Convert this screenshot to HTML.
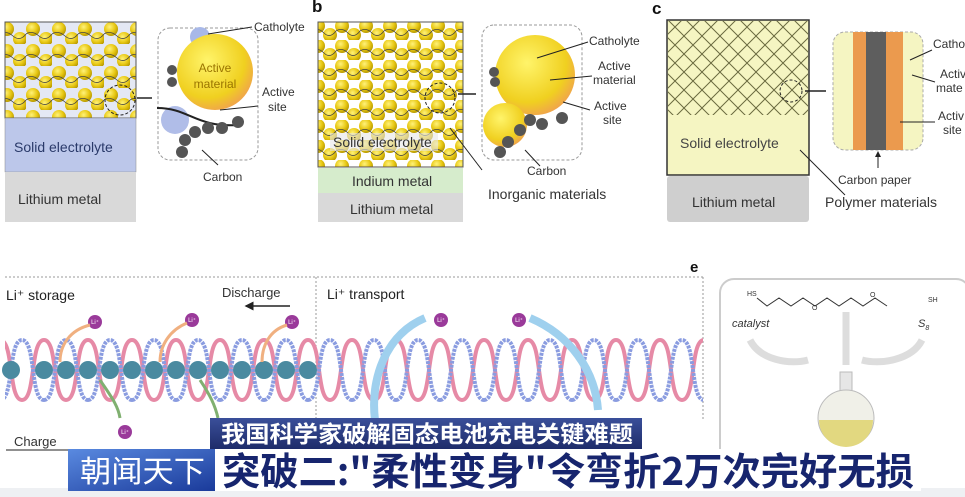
<!DOCTYPE html>
<html><head><meta charset="utf-8"><style>
html,body{margin:0;padding:0;background:#fff;}
body{width:965px;height:497px;overflow:hidden;position:relative;font-family:"Liberation Sans","Noto Sans CJK SC",sans-serif;}
svg{position:absolute;left:0;top:0;}
.t{font-family:"Liberation Sans",sans-serif;fill:#333;}
</style></head><body>
<svg width="965" height="497" viewBox="0 0 965 497">
<defs>
<radialGradient id="ball" cx="0.4" cy="0.35" r="0.65"><stop offset="0" stop-color="#fff27a"/><stop offset="0.6" stop-color="#e8c814"/><stop offset="1" stop-color="#b89a00"/></radialGradient>
<radialGradient id="big" cx="0.4" cy="0.35" r="0.7"><stop offset="0" stop-color="#fff46a"/><stop offset="0.7" stop-color="#f0d020"/><stop offset="1" stop-color="#f0a050"/></radialGradient>
<pattern id="balls" width="24" height="20" patternUnits="userSpaceOnUse">
<circle cx="6" cy="6" r="7" fill="url(#ball)"/><circle cx="18" cy="15" r="7" fill="url(#ball)"/><circle cx="-6" cy="15" r="7" fill="url(#ball)"/><circle cx="30" cy="6" r="7" fill="url(#ball)"/>
<path d="M0,11 q6,-4 12,2 t12,-2" stroke="#444" stroke-width="0.8" fill="none"/>
</pattern>
<pattern id="ballsa" width="26" height="22" patternUnits="userSpaceOnUse">
<rect width="26" height="22" fill="#e4e8f4"/>
<circle cx="7" cy="7" r="7" fill="url(#ball)"/><circle cx="20" cy="17" r="7" fill="url(#ball)"/>
<path d="M0,12 q6,-4 13,2 t13,-2" stroke="#444" stroke-width="0.8" fill="none"/>
</pattern>
<pattern id="mesh" width="18" height="18" patternUnits="userSpaceOnUse">
<path d="M0,0 L18,18 M18,0 L0,18" stroke="#6a6a40" stroke-width="1"/>
</pattern>
<pattern id="helix" x="0" y="335" width="44" height="70" patternUnits="userSpaceOnUse">
<path d="M0,5 C14,5 8,65 22,65 C36,65 30,5 44,5" stroke="#e68aa6" stroke-width="4" fill="none"/>
<path d="M0,65 C14,65 8,5 22,5 C36,5 30,65 44,65" stroke="#8a9ce0" stroke-width="4" fill="none" stroke-dasharray="3 1"/>
</pattern>
<marker id="ah" markerWidth="6" markerHeight="6" refX="5" refY="3" orient="auto"><path d="M0,0 L6,3 L0,6z" fill="#222"/></marker>
</defs>

<!-- Panel a -->
<rect x="5" y="22" width="131" height="96" fill="url(#ballsa)" stroke="#555"/>
<rect x="5" y="118" width="131" height="54" fill="#bcc7ea" stroke="#888" stroke-width="0.5"/>
<text x="14" y="152" font-size="14" class="t" style="fill:#2a3a6a">Solid electrolyte</text>
<rect x="5" y="172" width="131" height="50" fill="#d9d9d9"/>
<text x="18" y="204" font-size="14" class="t">Lithium metal</text>
<circle cx="120" cy="100" r="15" fill="none" stroke="#222" stroke-dasharray="3 2"/>
<line x1="137" y1="98" x2="152" y2="98" stroke="#222" stroke-width="1.5"/>
<rect x="158" y="28" width="100" height="132" rx="12" fill="none" stroke="#999" stroke-dasharray="3 2"/>
<circle cx="200" cy="37" r="10" fill="#a8b8e8"/><circle cx="175" cy="120" r="14" fill="#b0bde8"/>
<circle cx="215" cy="72" r="38" fill="url(#big)"/>
<path d="M157,108 C190,108 195,128 240,125" stroke="#222" stroke-width="2" fill="none"/>
<g fill="#555"><circle cx="185" cy="140" r="6"/><circle cx="182" cy="152" r="6"/><circle cx="195" cy="132" r="6"/><circle cx="208" cy="128" r="6"/><circle cx="222" cy="128" r="6"/><circle cx="238" cy="122" r="6"/><circle cx="172" cy="70" r="5"/><circle cx="172" cy="82" r="5"/></g>
<text x="215" y="72" font-size="12" text-anchor="middle" class="t" style="fill:#9a7400">Active</text>
<text x="215" y="88" font-size="12" text-anchor="middle" class="t" style="fill:#9a7400">material</text>
<line x1="252" y1="27" x2="208" y2="34" stroke="#222"/>
<text x="254" y="31" font-size="12" class="t">Catholyte</text>
<text x="262" y="96" font-size="12" class="t">Active</text><text x="268" y="111" font-size="12" class="t">site</text>
<line x1="258" y1="106" x2="220" y2="110" stroke="#222"/>
<line x1="218" y1="165" x2="202" y2="150" stroke="#222"/>
<text x="203" y="181" font-size="12" class="t">Carbon</text>

<!-- Panel b -->
<text x="312" y="12" font-size="17" font-weight="bold" class="t" style="fill:#111">b</text>
<rect x="318" y="22" width="145" height="145" fill="url(#balls)" stroke="#555"/>
<rect x="330" y="133" width="108" height="18" fill="rgba(230,230,230,0.6)"/>
<text x="333" y="147" font-size="14" class="t">Solid electrolyte</text>
<rect x="318" y="168" width="145" height="25" fill="#d6eccc"/>
<text x="352" y="186" font-size="14" class="t">Indium metal</text>
<rect x="318" y="193" width="145" height="29" fill="#d9d9d9"/>
<text x="350" y="214" font-size="14" class="t">Lithium metal</text>
<circle cx="440" cy="98" r="15" fill="none" stroke="#222" stroke-dasharray="3 2"/>
<line x1="458" y1="94" x2="476" y2="94" stroke="#222" stroke-width="1.5"/>
<line x1="450" y1="128" x2="482" y2="170" stroke="#222"/>
<rect x="482" y="25" width="100" height="135" rx="12" fill="none" stroke="#999" stroke-dasharray="3 2"/>
<circle cx="535" cy="75" r="40" fill="url(#big)"/>
<circle cx="505" cy="125" r="22" fill="url(#big)"/>
<g fill="#555"><circle cx="530" cy="120" r="6"/><circle cx="542" cy="124" r="6"/><circle cx="520" cy="130" r="6"/><circle cx="508" cy="142" r="6"/><circle cx="500" cy="152" r="6"/><circle cx="494" cy="72" r="5"/><circle cx="495" cy="82" r="5"/><circle cx="562" cy="118" r="6"/></g>
<text x="589" y="45" font-size="12" class="t">Catholyte</text>
<line x1="588" y1="42" x2="537" y2="58" stroke="#222"/>
<text x="598" y="70" font-size="12" class="t">Active</text><text x="593" y="84" font-size="12" class="t">material</text>
<line x1="592" y1="76" x2="550" y2="80" stroke="#222"/>
<text x="594" y="110" font-size="12" class="t">Active</text><text x="603" y="124" font-size="12" class="t">site</text>
<line x1="590" y1="110" x2="563" y2="102" stroke="#222"/>
<line x1="540" y1="166" x2="525" y2="150" stroke="#222"/>
<text x="527" y="175" font-size="12" class="t">Carbon</text>
<text x="488" y="199" font-size="14" class="t">Inorganic materials</text>

<!-- Panel c -->
<text x="652" y="14" font-size="17" font-weight="bold" class="t" style="fill:#111">c</text>
<rect x="667" y="20" width="142" height="155" fill="#f5f5c2" stroke="#333" stroke-width="1.5"/>
<rect x="668" y="21" width="140" height="94" fill="url(#mesh)"/>
<text x="680" y="148" font-size="14" class="t" style="fill:#444">Solid electrolyte</text>
<rect x="667" y="176" width="142" height="46" rx="3" fill="#cfcfcf"/>
<text x="692" y="207" font-size="14" class="t">Lithium metal</text>
<circle cx="791" cy="91" r="11" fill="none" stroke="#222" stroke-dasharray="3 2"/>
<line x1="805" y1="91" x2="826" y2="91" stroke="#222" stroke-width="1.5"/>
<line x1="800" y1="150" x2="845" y2="195" stroke="#222"/>
<rect x="833" y="32" width="90" height="118" rx="12" fill="#f5f5c2" stroke="#aaa" stroke-dasharray="3 2"/>
<rect x="853" y="32" width="50" height="118" fill="#eb9a4e"/>
<rect x="866" y="32" width="20" height="118" fill="#5e5e5e"/>
<line x1="878" y1="168" x2="878" y2="152" stroke="#222" marker-end="url(#ah)"/>
<text x="838" y="184" font-size="12" class="t">Carbon paper</text>
<text x="825" y="207" font-size="14" class="t">Polymer materials</text>
<text x="933" y="48" font-size="12" class="t">Catho</text>
<text x="940" y="78" font-size="12" class="t">Activ</text><text x="936" y="92" font-size="12" class="t">mate</text>
<text x="938" y="120" font-size="12" class="t">Activ</text><text x="943" y="134" font-size="12" class="t">site</text>
<line x1="932" y1="50" x2="910" y2="60" stroke="#222"/><line x1="935" y1="82" x2="912" y2="75" stroke="#222"/><line x1="935" y1="122" x2="900" y2="122" stroke="#222"/>

<!-- Bottom left -->
<line x1="5" y1="277" x2="703" y2="277" stroke="#999" stroke-dasharray="2 2"/>
<line x1="316" y1="277" x2="316" y2="420" stroke="#999" stroke-dasharray="2 2"/>
<line x1="703" y1="277" x2="703" y2="420" stroke="#999" stroke-dasharray="2 2"/>
<text x="6" y="300" font-size="14" class="t" style="fill:#222">Li⁺ storage</text>
<text x="222" y="297" font-size="13" class="t">Discharge</text>
<line x1="290" y1="306" x2="246" y2="306" stroke="#222" stroke-width="1.5" marker-end="url(#ah)"/>
<text x="327" y="299" font-size="14" class="t" style="fill:#222">Li⁺ transport</text>
<rect x="5" y="335" width="698" height="70" fill="url(#helix)"/>
<g fill="#4a8aa0">
<circle cx="11" cy="370" r="9"/><circle cx="44" cy="370" r="9"/><circle cx="66" cy="370" r="9"/><circle cx="88" cy="370" r="9"/><circle cx="110" cy="370" r="9"/><circle cx="132" cy="370" r="9"/><circle cx="154" cy="370" r="9"/><circle cx="176" cy="370" r="9"/><circle cx="198" cy="370" r="9"/><circle cx="220" cy="370" r="9"/><circle cx="242" cy="370" r="9"/><circle cx="264" cy="370" r="9"/><circle cx="286" cy="370" r="9"/><circle cx="308" cy="370" r="9"/>
</g>
<g fill="#9a3a9a"><circle cx="95" cy="322" r="7"/><circle cx="192" cy="320" r="7"/><circle cx="292" cy="322" r="7"/><circle cx="441" cy="320" r="7"/><circle cx="519" cy="320" r="7"/><circle cx="125" cy="432" r="7"/></g>
<g font-size="6" fill="#fff" text-anchor="middle"><text x="95" y="324">Li⁺</text><text x="192" y="322">Li⁺</text><text x="292" y="324">Li⁺</text><text x="441" y="322">Li⁺</text><text x="519" y="322">Li⁺</text><text x="125" y="434">Li⁺</text></g>
<path d="M90,325 C70,330 60,345 60,362" stroke="#f0b080" stroke-width="3" fill="none"/>
<path d="M187,323 C170,330 160,345 160,362" stroke="#f0b080" stroke-width="3" fill="none"/>
<path d="M287,325 C270,330 262,345 262,362" stroke="#f0b080" stroke-width="3" fill="none"/>
<path d="M100,380 C110,395 118,405 120,418" stroke="#80b070" stroke-width="3" fill="none"/>
<path d="M200,380 C210,395 215,405 218,418" stroke="#80b070" stroke-width="3" fill="none"/>
<path d="M375,420 C370,380 385,335 425,318" stroke="#9fd0ee" stroke-width="8" fill="none"/>
<path d="M530,318 C570,335 595,370 598,410" stroke="#9fd0ee" stroke-width="8" fill="none"/>
<text x="14" y="446" font-size="13" class="t">Charge</text>
<line x1="6" y1="450" x2="70" y2="450" stroke="#222"/>

<!-- Panel e -->
<text x="690" y="272" font-size="15" font-weight="bold" class="t" style="fill:#111">e</text>
<rect x="720" y="279" width="250" height="240" rx="14" fill="none" stroke="#ccc" stroke-width="2"/>
<path d="M757,298 l10,8 l12,-8 l12,8 l12,-8 l12,8 l12,-8 l12,8 l12,-8 l12,8 l12,-8 l12,8" stroke="#333" fill="none"/>
<text x="747" y="296" font-size="7" class="t">HS</text><text x="812" y="310" font-size="7" class="t">O</text><text x="870" y="297" font-size="7" class="t">O</text><text x="928" y="302" font-size="7" class="t">SH</text>
<text x="732" y="327" font-size="11" font-style="italic" class="t">catalyst</text>
<text x="918" y="327" font-size="11" font-style="italic" class="t">S<tspan font-size="7" dy="3">8</tspan></text>
<path d="M750,340 C760,360 790,365 808,360" stroke="#ddd" stroke-width="7" fill="none"/>
<path d="M922,340 C912,360 880,365 862,360" stroke="#ddd" stroke-width="7" fill="none"/>
<line x1="846" y1="312" x2="846" y2="365" stroke="#ddd" stroke-width="7"/>
<rect x="840" y="372" width="12" height="22" fill="#e6e6e6" stroke="#bbb"/>
<circle cx="846" cy="418" r="28" fill="#f0f0e8" stroke="#bbb"/>
<path d="M819,420 A27,27 0 0 0 873,420 Z" fill="#e2d880"/>

<!-- Banners -->
<rect x="0" y="488" width="965" height="9" fill="#eef0f3"/>
<defs><linearGradient id="bn" x1="0" y1="0" x2="0" y2="1"><stop offset="0" stop-color="#3a4f9a"/><stop offset="1" stop-color="#1e2c6a"/></linearGradient>
<linearGradient id="lg" x1="0" y1="0" x2="1" y2="1"><stop offset="0" stop-color="#5a8ae0"/><stop offset="1" stop-color="#1a3a9a"/></linearGradient></defs>
<rect x="210" y="418" width="432" height="31" fill="url(#bn)"/>
<text x="221" y="442" font-size="23" fill="#fff" font-family="'Noto Sans CJK SC',sans-serif" font-weight="bold" textLength="412" lengthAdjust="spacingAndGlyphs">我国科学家破解固态电池充电关键难题</text>
<rect x="68" y="449" width="147" height="42" fill="url(#lg)"/>
<text x="80" y="482" font-size="30" fill="#fff" font-family="'Noto Sans CJK SC',sans-serif" textLength="125" lengthAdjust="spacingAndGlyphs">朝闻天下</text>
<rect x="215" y="449" width="706" height="42" fill="#ffffff"/>
<text x="222" y="485" font-size="38" fill="#17256e" font-family="'Noto Sans CJK SC',sans-serif" font-weight="bold" textLength="692" lengthAdjust="spacingAndGlyphs">突破二:"柔性变身"令弯折2万次完好无损</text>
</svg>
</body></html>
